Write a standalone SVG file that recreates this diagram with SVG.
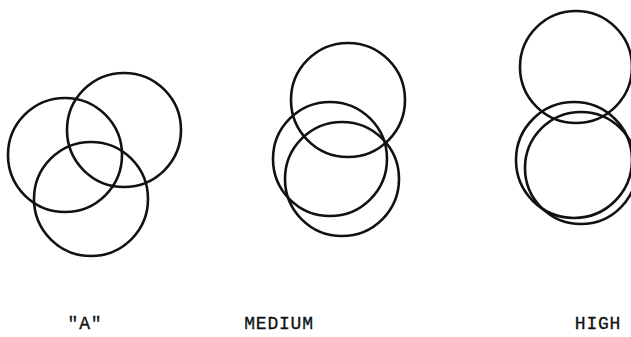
<svg xmlns="http://www.w3.org/2000/svg" width="631" height="337" viewBox="0 0 631 337">
<style>
circle{fill:none;stroke:#111;stroke-width:2.6}
text{font-family:"Liberation Mono","Courier New",monospace;font-size:18px;fill:#111;text-anchor:middle;letter-spacing:0.8px;stroke:#111;stroke-width:0.3}
</style>
<rect width="631" height="337" fill="#fff"/>
<g id="group-a">
<circle cx="65" cy="155" r="57"/>
<circle cx="124" cy="130" r="57"/>
<circle cx="91" cy="199" r="57"/>
<text x="85" y="329">"A"</text>
</g>
<g id="group-medium">
<circle cx="348" cy="100" r="57"/>
<circle cx="330" cy="159" r="57"/>
<circle cx="342" cy="179" r="57"/>
<text x="279" y="329">MEDIUM</text>
</g>
<g id="group-high">
<circle cx="576" cy="67" r="56"/>
<circle cx="574" cy="160" r="58"/>
<circle cx="581" cy="168" r="56"/>
<text x="598" y="329">HIGH</text>
</g>
<g id="connectors"></g>
</svg>
